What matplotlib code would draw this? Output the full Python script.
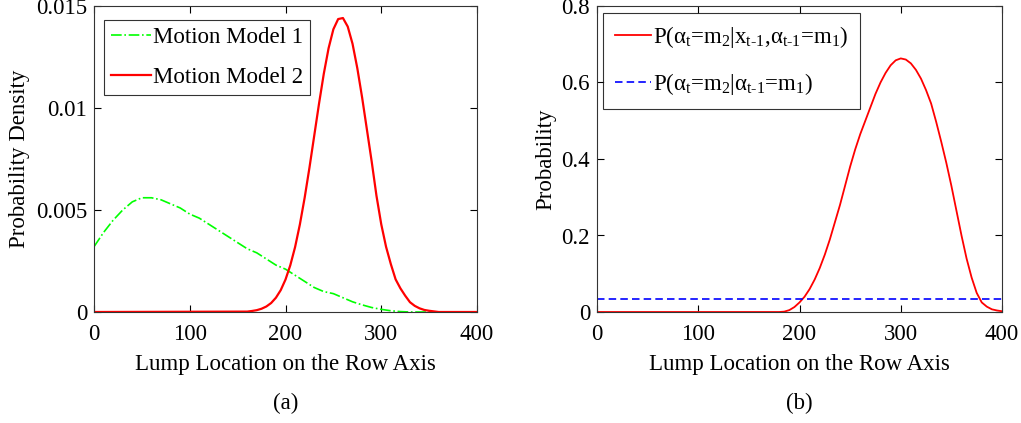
import matplotlib
matplotlib.use("Agg")
import matplotlib.pyplot as plt

plt.rcParams["font.family"] = "Liberation Serif"
plt.rcParams["mathtext.fontset"] = "custom"
plt.rcParams["mathtext.rm"] = "Liberation Serif"
plt.rcParams["mathtext.it"] = "Liberation Serif"
plt.rcParams["mathtext.sf"] = "Liberation Sans"

# ---- data ----
# (a) motion model densities
model1_x = [0, 10, 20, 30, 40, 50, 60, 70, 80, 90, 100, 110, 120, 130, 140, 150, 160, 170, 180,
            190, 200, 210, 220, 230, 240, 250, 260, 270, 280, 290, 300, 310, 320, 330, 400]
model1_density = [0.0032, 0.0039, 0.0045, 0.0050, 0.0054, 0.0056, 0.0056, 0.0055, 0.0053, 0.0051,
                  0.0048, 0.0046, 0.0043, 0.0040, 0.0037, 0.0034, 0.0031, 0.0029, 0.0026, 0.0023,
                  0.0021, 0.0018, 0.0015, 0.0012, 0.0010, 0.0009, 0.0007, 0.0005, 0.00035, 0.00022,
                  0.00013, 0.00006, 0.00002, 0.0, 0.0]

model2_x = [0, 160, 165, 170, 175, 180, 185, 190, 195, 200, 205, 210, 215, 220, 225, 230, 235, 240,
            245, 250, 255, 260, 265, 270, 275, 280, 285, 290, 295, 300, 305, 310, 315, 320, 325,
            330, 335, 340, 345, 350, 360, 400]
model2_density = [0.0, 0.00002, 0.00005, 0.00009, 0.00016, 0.00027, 0.00044, 0.0007, 0.00107, 0.00159,
                  0.00229, 0.00318, 0.00429, 0.0056, 0.00707, 0.00864, 0.01021, 0.01168, 0.01293,
                  0.01386, 0.01436, 0.01441, 0.01399, 0.01315, 0.01195, 0.01052, 0.00895, 0.00738,
                  0.0057, 0.0043, 0.0032, 0.00235, 0.0016, 0.00116, 0.0008, 0.00048, 0.0003, 0.00018,
                  0.0001, 0.00006, 0.0, 0.0]

# (b) switching probabilities
switch_x = [0, 180, 185, 190, 195, 200, 205, 210, 215, 220, 225, 230, 235, 240, 245, 250, 255, 260,
            265, 270, 275, 280, 285, 290, 295, 300, 305, 310, 315, 320, 325, 330, 335, 340, 345,
            350, 355, 360, 365, 370, 375, 380, 385, 390, 395, 400]
p_switch_given_x = [0.0, 0.0, 0.001, 0.005, 0.013, 0.025, 0.04, 0.06, 0.085, 0.115, 0.15, 0.19, 0.235,
                    0.28, 0.33, 0.38, 0.425, 0.465, 0.50, 0.535, 0.57, 0.60, 0.625, 0.645, 0.658,
                    0.663, 0.66, 0.65, 0.633, 0.61, 0.58, 0.545, 0.497, 0.445, 0.39, 0.33, 0.265,
                    0.20, 0.14, 0.09, 0.05, 0.025, 0.014, 0.007, 0.004, 0.002]
p_switch_prior = 0.033

x_ticks = [0, 100, 200, 300, 400]
a_yticks = [0, 0.005, 0.01, 0.015]
a_yticklabels = ["0", "0.005", "0.01", "0.015"]
b_yticks = [0, 0.2, 0.4, 0.6, 0.8]
b_yticklabels = ["0", "0.2", "0.4", "0.6", "0.8"]

FS = 16.5

fig = plt.figure(figsize=(10.21, 4.23), dpi=100)
ax_a = fig.add_axes([94 / 1021, 1 - 312 / 423, 383 / 1021, 306 / 423])
ax_b = fig.add_axes([597 / 1021, 1 - 312 / 423, 405 / 1021, 306 / 423])

ax_a.plot(model1_x, model1_density, color=(0, 1, 0), linestyle="-.", linewidth=1.2, label="Motion Model 1")
ax_a.plot(model2_x, model2_density, color=(1, 0, 0), linestyle="-", linewidth=1.6, label="Motion Model 2")
ax_a.set_ylim(0, 0.015)
ax_a.set_yticks(a_yticks)
ax_a.set_yticklabels(a_yticklabels)
ax_a.set_ylabel("Probability Density", fontsize=FS, labelpad=4)

ax_b.plot(switch_x, p_switch_given_x, color=(1, 0, 0), linestyle="-", linewidth=1.3,
          label=r"P($\alpha_{t}$=m$_{2}$|x$_{t\text{-}1}$,$\alpha_{t\text{-}1}$=m$_{1}$)")
ax_b.plot([switch_x[0], switch_x[-1]], [p_switch_prior, p_switch_prior], color=(0, 0, 1),
          linestyle=(0, (4.5, 2.5)), linewidth=1.2,
          label=r"P($\alpha_{t}$=m$_{2}$|$\alpha_{t\text{-}1}$=m$_{1}$)")
ax_b.set_ylim(0, 0.8)
ax_b.set_yticks(b_yticks)
ax_b.set_yticklabels(b_yticklabels)
ax_b.set_ylabel("Probability", fontsize=FS, labelpad=4)

for ax, cap in ((ax_a, "(a)"), (ax_b, "(b)")):
    ax.set_xlim(0, 400)
    ax.set_xticks(x_ticks)
    ax.set_xlabel("Lump Location on the Row Axis", fontsize=FS, labelpad=6)
    ax.tick_params(direction="in", top=True, right=True, labelsize=FS, length=5, width=0.8,
                   colors="#000000")
    ax.tick_params(axis="x", pad=9)
    ax.tick_params(axis="y", pad=5)
    for sp in ax.spines.values():
        sp.set_linewidth(0.8)
        sp.set_color("#333333")
    ax.text(0.5, -0.30, cap, transform=ax.transAxes, ha="center", va="center", fontsize=FS)

ax_a.legend(loc="upper left", bbox_to_anchor=(0.026, 0.955), fontsize=FS, frameon=True, fancybox=False,
            edgecolor="#000000", handlelength=1.75, handletextpad=0.1, borderpad=0.3,
            labelspacing=0.85, borderaxespad=0.0).get_frame().set_linewidth(0.8)
ax_b.legend(loc="upper left", bbox_to_anchor=(0.015, 0.977), fontsize=FS, frameon=True, fancybox=False,
            edgecolor="#000000", handlelength=1.6, handletextpad=0.1, borderpad=0.5,
            labelspacing=0.9, borderaxespad=0.0).get_frame().set_linewidth(0.8)

fig.savefig("out.png", dpi=100)
